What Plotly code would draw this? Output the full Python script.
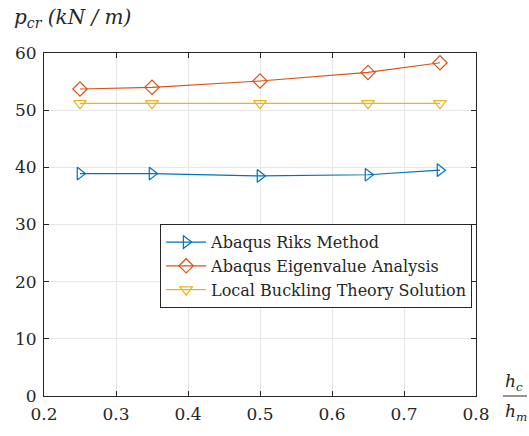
import plotly.graph_objects as go

x = [0.25, 0.35, 0.5, 0.65, 0.75]
riks = [38.9, 38.9, 38.5, 38.7, 39.5]
eigen = [53.7, 54.0, 55.1, 56.6, 58.3]
theory = [51.2, 51.2, 51.2, 51.2, 51.2]
names = ["Abaqus Riks Method", "Abaqus Eigenvalue Analysis", "Local Buckling Theory Solution"]
xticks = [0.2, 0.3, 0.4, 0.5, 0.6, 0.7, 0.8]
yticks = [0, 10, 20, 30, 40, 50, 60]

font = "DejaVu Serif"
fig = go.Figure()
fig.add_trace(go.Scatter(x=x, y=riks, name=names[0], mode="lines+markers",
    line=dict(color="#0072BD", width=1.2),
    marker=dict(symbol="triangle-right-open", size=11, color="#0072BD", line=dict(width=1.2))))
fig.add_trace(go.Scatter(x=x, y=eigen, name=names[1], mode="lines+markers",
    line=dict(color="#D95319", width=1.2),
    marker=dict(symbol="diamond-open", size=11, color="#D95319", line=dict(width=1.2))))
fig.add_trace(go.Scatter(x=x, y=theory, name=names[2], mode="lines+markers",
    line=dict(color="#EDB120", width=1.2),
    marker=dict(symbol="triangle-down-open", size=11, color="#EDB120", line=dict(width=1.2))))

axcommon = dict(showline=True, linecolor="#262626", linewidth=1, mirror="ticks",
                ticks="inside", ticklen=5, tickcolor="#262626",
                showgrid=True, gridcolor="#e6e6e6", gridwidth=1, zeroline=False,
                tickfont=dict(family=font, size=17, color="#262626"))
fig.update_xaxes(range=[0.2, 0.8], tickvals=xticks, ticktext=[str(v) for v in xticks],
                 ticklabelstandoff=3, **axcommon)
fig.update_yaxes(range=[0, 60], tickvals=yticks, ticklabelstandoff=3, **axcommon)

fig.update_layout(
    width=529, height=436,
    margin=dict(l=44, r=53, t=53, b=38),
    plot_bgcolor="white", paper_bgcolor="white",
    font=dict(family=font, color="#262626"),
    legend=dict(x=0.991, y=0.501, xanchor="right", yanchor="top",
                bordercolor="#262626", borderwidth=1, bgcolor="white",
                font=dict(family=font, size=16, color="#262626"),
                tracegroupgap=0, itemwidth=40),
    annotations=[
        dict(text="<i>p</i><sub><i>cr</i></sub><i> (kN / m)</i>", xref="paper", yref="paper",
             x=0, xshift=-32, y=1.0, yshift=20, xanchor="left", yanchor="bottom", showarrow=False,
             font=dict(family=font, size=20, color="#262626")),
        dict(text="<i>h</i><sub><i>c</i></sub>", xref="paper", yref="paper",
             x=1.0, y=0, xshift=27, yshift=0, xanchor="left", yanchor="bottom", showarrow=False,
             font=dict(family=font, size=17, color="#262626")),
        dict(text="<i>h</i><sub><i>m</i></sub>", xref="paper", yref="paper",
             x=1.0, y=0, xshift=27, yshift=-3, xanchor="left", yanchor="top", showarrow=False,
             font=dict(family=font, size=17, color="#262626")),
    ],
)
fig.layout.shapes = [dict(type="line", xref="paper", yref="paper", xsizemode="pixel",
                          xanchor=1.0, x0=27, x1=51, y0=0, y1=0,
                          line=dict(color="#262626", width=1))]
fig.write_html("out.html")
